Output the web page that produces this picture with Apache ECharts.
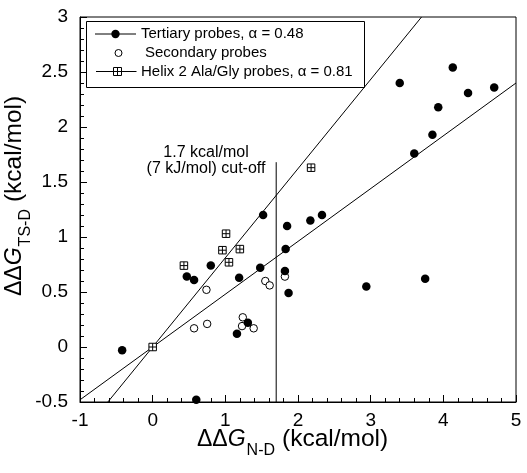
<!DOCTYPE html>
<html><head><meta charset="utf-8">
<script src="https://cdn.jsdelivr.net/npm/echarts@6/dist/echarts.min.js"></script>
<style>html,body{margin:0;padding:0;background:#fff}#c{width:527px;height:473px}</style>
</head><body><div id="c"></div>
<script>
// ---- data ----
const tertiaryX = [-0.42, 0.47, 0.57, 0.80, 1.52, 1.19, 1.48, 1.16, 1.31, 1.85, 1.83, 1.82, 1.87, 0.60, 2.17, 2.33, 2.94, 3.75, 3.40, 4.13, 4.34, 4.70, 3.93, 3.85, 3.60];
const tertiaryY = [-0.03, 0.64, 0.61, 0.74, 1.20, 0.63, 0.72, 0.12, 0.22, 1.10, 0.89, 0.69, 0.49, -0.48, 1.15, 1.20, 0.55, 0.62, 2.40, 2.54, 2.31, 2.36, 2.18, 1.93, 1.76];
const secondaryX = [0.74, 0.57, 0.75, 1.24, 1.23, 1.39, 1.55, 1.61, 1.82];
const secondaryY = [0.52, 0.17, 0.21, 0.27, 0.19, 0.17, 0.60, 0.56, 0.64];
const helixX = [0, 0.43, 1.01, 0.96, 1.05, 1.20, 2.18];
const helixY = [0, 0.74, 1.03, 0.88, 0.77, 0.89, 1.63];
const tertiaryFitX = [-1, 5];
const tertiaryFitY = [-0.48, 2.40];
const helixFitX = [-0.617, 3.70];
const helixFitY = [-0.5, 3.0];
const cutoffX = [1.7, 1.7];
const cutoffY = [-0.5, 1.68];
const xMin = -1, xMax = 5, xStep = 1;
const yMin = -0.5, yMax = 3, yStep = 0.5;
const legendLabels = ['Tertiary probes, \u03b1 = 0.48', 'Secondary probes', 'Helix 2 Ala/Gly probes, \u03b1 = 0.81'];
const cutoffLabels = ['1.7 kcal/mol', '(7 kJ/mol) cut-off'];

const FONT = '"Liberation Sans", Arial, Helvetica, sans-serif';
const pts = (xs, ys) => xs.map((x, i) => [x, ys[i]]);
const SQ = 'path://M0,0L10,0L10,10L0,10Z M5,0L5,10 M0,5L10,5';

const ctx = document.createElement('canvas').getContext('2d');
function measure(t, font) { ctx.font = font; return ctx.measureText(t).width; }
function titleChildren(parts) {
  let cx = 0; const ch = [];
  parts.forEach(p => {
    const font = (p.italic ? 'italic ' : '') + p.size + 'px ' + FONT;
    ch.push({ type: 'text', x: cx, y: p.dy - 0.35 * p.size,
      style: { text: p.t, font: font, fill: '#000', align: 'left', verticalAlign: 'middle' } });
    cx += measure(p.t, font) + (p.gap || 0);
  });
  return ch;
}
const titleParts = (sub) => [
  { t: '\u0394\u0394', size: 23, dy: 0 },
  { t: 'G', size: 23, italic: true, dy: 0, gap: 1 },
  { t: sub, size: 16, dy: 8, gap: 7 },
  { t: '(kcal/mol)', size: 24.5, dy: 0 }
];

const chart = echarts.init(document.getElementById('c'), null, { renderer: 'canvas' });
const axisCommon = {
  type: 'value',
  axisLine: { show: true, onZero: false, lineStyle: { color: '#000', width: 1 } },
  axisTick: { show: true, inside: true, length: 7, lineStyle: { color: '#000', width: 1 } },
  minorTick: { show: true, splitNumber: 5, length: 4, lineStyle: { color: '#000', width: 1 } },
  splitLine: { show: false },
  axisLabel: { color: '#000', fontSize: 19, fontFamily: FONT }
};
chart.setOption({
  animation: false,
  backgroundColor: '#fff',
  grid: { left: 80, right: 11, top: 17, bottom: 71, show: true, borderColor: '#000', borderWidth: 1, backgroundColor: 'transparent' },
  xAxis: Object.assign({}, axisCommon, { min: xMin, max: xMax, interval: xStep,
    axisLabel: Object.assign({}, axisCommon.axisLabel, { margin: 9 }) }),
  yAxis: Object.assign({}, axisCommon, { min: yMin, max: yMax, interval: yStep,
    axisLabel: Object.assign({}, axisCommon.axisLabel, { margin: 12 }) }),
  series: [
    { type: 'line', data: pts(tertiaryFitX, tertiaryFitY), showSymbol: false, silent: true, z: 1,
      lineStyle: { color: '#000', width: 1 } },
    { type: 'line', data: pts(helixFitX, helixFitY), showSymbol: false, silent: true, z: 1,
      lineStyle: { color: '#000', width: 1 } },
    { type: 'line', data: pts(cutoffX, cutoffY), showSymbol: false, silent: true, z: 1,
      lineStyle: { color: '#000', width: 1 } },
    { type: 'scatter', name: legendLabels[1], data: pts(secondaryX, secondaryY), symbol: 'circle', symbolSize: 7.5, z: 3,
      itemStyle: { color: '#fff', borderColor: '#000', borderWidth: 1, opacity: 1 } },
    { type: 'scatter', name: legendLabels[2], data: pts(helixX, helixY), symbol: SQ, symbolSize: 7.5, z: 3,
      itemStyle: { color: '#fff', borderColor: '#000', borderWidth: 1, opacity: 1 } },
    { type: 'scatter', name: legendLabels[0], data: pts(tertiaryX, tertiaryY), symbol: 'circle', symbolSize: 8.5, z: 4,
      itemStyle: { color: '#000', opacity: 1 } }
  ],
  graphic: [
    // legend
    { type: 'rect', z: 100, shape: { x: 86.5, y: 21.5, width: 278, height: 66 }, style: { fill: '#fff', stroke: '#000', lineWidth: 1 } },
    { type: 'line', z: 101, shape: { x1: 95, y1: 34, x2: 136, y2: 34 }, style: { stroke: '#000', lineWidth: 1 } },
    { type: 'circle', z: 102, shape: { cx: 115.5, cy: 34, r: 4.2 }, style: { fill: '#000' } },
    { type: 'text', z: 102, x: 141, y: 34, style: { text: legendLabels[0], font: '15px ' + FONT, fill: '#000', verticalAlign: 'middle' } },
    { type: 'circle', z: 102, shape: { cx: 118.5, cy: 53, r: 3.5 }, style: { fill: '#fff', stroke: '#000', lineWidth: 1 } },
    { type: 'text', z: 102, x: 145, y: 53, style: { text: legendLabels[1], font: '15px ' + FONT, fill: '#000', verticalAlign: 'middle' } },
    { type: 'line', z: 101, shape: { x1: 96, y1: 71.5, x2: 136.5, y2: 71.5 }, style: { stroke: '#000', lineWidth: 1 } },
    { type: 'rect', z: 102, shape: { x: 113.5, y: 67.5, width: 8, height: 8 }, style: { fill: '#fff', stroke: '#000', lineWidth: 1 } },
    { type: 'line', z: 103, shape: { x1: 117.5, y1: 67.5, x2: 117.5, y2: 75.5 }, style: { stroke: '#000', lineWidth: 1 } },
    { type: 'line', z: 103, shape: { x1: 113.5, y1: 71.5, x2: 121.5, y2: 71.5 }, style: { stroke: '#000', lineWidth: 1 } },
    { type: 'text', z: 102, x: 141, y: 71.5, style: { text: legendLabels[2], font: '15px ' + FONT, fill: '#000', verticalAlign: 'middle' } },
    // cutoff annotation
    { type: 'text', z: 100, x: 206, y: 152.5, style: { text: cutoffLabels[0], font: '16px ' + FONT, fill: '#000', align: 'center', verticalAlign: 'middle' } },
    { type: 'text', z: 100, x: 206, y: 169, style: { text: cutoffLabels[1], font: '16px ' + FONT, fill: '#000', align: 'center', verticalAlign: 'middle' } },
    // axis titles
    { type: 'group', x: 197, y: 448, children: titleChildren(titleParts('N-D')) },
    { type: 'group', x: 23, y: 296, rotation: Math.PI / 2, children: titleChildren(titleParts('TS-D')) }
  ]
});
</script>
</body></html>
